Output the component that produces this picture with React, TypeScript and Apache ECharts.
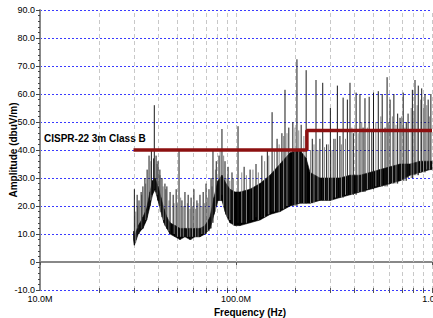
import React, { useEffect, useRef } from "react";
import * as echarts from "echarts";

// ---- axes ----
const yMin = -10;
const yMax = 90;
const yStep = 10;
const xMin = 10; // MHz
const xMax = 1000; // MHz
const xGridLines = [20, 30, 40, 50, 60, 70, 80, 90, 100, 200, 300, 400, 500, 600, 700, 800, 900, 1000];

// ---- measured noise floor band (MHz, dBuV/m) ----
const bandFreq = [
  30.0, 30.3, 31.0, 31.7, 32.4, 33.5, 35.0, 36.4, 37.5, 38.6, 40.0, 41.4, 42.9, 44.4, 46.1, 48.9,
  51.8, 54.9, 58.3, 61.8, 65.5, 69.5, 73.7, 77.2, 80.9, 84.8, 88.9, 93.2, 98.8, 104.8, 117.9,
  132.6, 149.1, 167.7, 188.6, 212, 228, 238.6, 268, 301.8, 339, 381.6, 429, 483, 543, 611, 687,
  772, 869, 977, 1000,
];
const bandLow = [
  8, 6, 8, 10, 11, 12, 15, 20, 24, 26, 22, 18, 14, 12, 10, 9,
  8, 9, 8, 9, 9, 10, 12, 17, 22, 22, 17, 14, 13, 13, 14,
  15, 17, 18, 20, 21, 21, 21, 22, 22, 23, 24, 25, 26, 27, 28, 29,
  31, 32, 33, 33,
];
const bandHigh = [
  11, 9, 11, 13, 14, 16, 19, 25, 29, 30, 27, 23, 19, 16, 14, 13,
  12, 12, 12, 12, 12, 13, 16, 23, 29, 31, 28, 26, 25, 25, 26,
  28, 31, 35, 39, 40, 37, 32, 30, 30, 30, 31, 31, 32, 33, 34, 35,
  35, 36, 36, 36,
];

// ---- spikes: [MHz, base dB, peak dB] ----
const darkSpikes: [number, number, number][] = [
  [30.3, 8, 26], [31.3, 10, 24], [32.0, 10, 22], [32.8, 12, 25], [33.5, 12, 27], [34.3, 14, 30],
  [35.2, 16, 33], [36.0, 20, 38], [37.0, 24, 40], [38.0, 25, 37], [38.3, 26, 56], [39.1, 25, 38],
  [40.0, 22, 36], [40.9, 20, 33], [41.9, 16, 30], [43.4, 13, 28], [44.4, 12, 27], [46.1, 10, 25],
  [47.8, 10, 24], [49.5, 9, 26], [51.2, 9, 40], [53.0, 9, 22], [54.9, 9, 25], [57.0, 9, 24],
  [59.0, 8, 23], [61.0, 9, 26], [63.2, 9, 22], [65.5, 9, 24], [68.0, 10, 25], [70.3, 10, 28],
  [72.8, 11, 26], [74.6, 12, 30], [76.3, 14, 40], [79.3, 20, 36], [81.9, 22, 38], [84.8, 24, 47.5],
  [87.9, 18, 36], [91.1, 16, 34], [95.4, 14, 32], [102.4, 14, 48.5], [110, 14, 34], [118, 15, 33],
  [126.5, 16, 35], [135.5, 16, 38], [144.5, 17, 40], [152.8, 18, 53.5], [162, 18, 44], [171.5, 19, 46],
  [177.8, 19, 61.5], [186, 20, 48], [195, 20, 50], [204.6, 20, 72.4], [215, 21, 49], [228, 21, 68.5],
  [245, 21, 44], [256, 22, 65], [268, 22, 44], [277, 22, 64], [290, 22, 42], [303, 22, 55],
  [316, 23, 44], [329, 23, 63], [339, 23, 45], [352, 23, 58.7], [370, 24, 58], [381.6, 24, 64],
  [397, 24, 46], [410, 24, 60.5], [429, 25, 60], [445, 25, 48], [455, 25, 58.5], [478, 26, 59],
  [493, 26, 47], [503, 26, 60.5], [532, 27, 61], [557, 27, 60], [576, 27, 48], [590, 27, 66],
  [611, 28, 58], [639, 28, 60], [668, 28, 53], [687, 29, 51.5], [713, 29, 60.5], [739, 29, 50],
  [755, 30, 53], [794, 30, 61.5], [819, 31, 65], [851, 31, 63], [886, 32, 62], [921, 32, 60],
  [956, 33, 58], [987, 33, 60],
];
const greySpikes: [number, number, number][] = [
  [30.8, 7, 18], [31.5, 12, 20], [33, 12, 24], [34.6, 15, 28], [36.8, 22, 36], [39.6, 24, 35],
  [41, 18, 31], [42.5, 15, 27], [43.8, 13, 26], [45.5, 11, 22], [48.3, 10, 21], [50.3, 9, 21],
  [52.2, 9, 23], [53.8, 9, 20], [56.5, 9, 21], [58.2, 9, 19], [60, 9, 20], [62.2, 9, 19],
  [64, 9, 21], [67, 10, 20], [69.2, 10, 21], [71.5, 11, 23], [75.5, 14, 27], [78.5, 18, 33],
  [83, 22, 40], [86.5, 20, 38], [90, 16, 30], [93, 15, 29], [97, 13, 30], [107, 14, 32],
  [113, 14, 31], [122, 15, 33], [130, 15, 32], [140, 16, 36], [147, 17, 38], [157, 18, 40],
  [166, 18, 42], [175, 19, 45], [182, 20, 46], [200, 20, 48], [209, 21, 47], [222, 21, 45],
  [240, 21, 40], [250, 21, 42], [262, 22, 40], [283, 22, 41], [296, 22, 42], [309, 22, 40],
  [322, 23, 44], [345, 23, 42], [362, 24, 44], [390, 24, 48], [420, 25, 46], [438, 25, 50],
  [468, 26, 48], [517, 27, 50], [548, 27, 52], [600, 28, 50], [628, 28, 52], [655, 28, 49],
  [700, 29, 52], [727, 29, 48], [783, 30, 55], [808, 31, 54], [840, 31, 56], [875, 32, 58],
  [905, 32, 55], [940, 33, 56], [970, 33, 52],
];

// ---- limit line ----
const limitFreq = [30, 230, 230, 1000];
const limitLevel = [40, 40, 47, 47];
const limitName = "CISPR-22 3m Class B";

const xTitle = "Frequency (Hz)";
const yTitle = "Amplitude (dbuV/m)";

const FONT = 'Arial, "Liberation Sans", sans-serif';

function fmtFreq(v: number): string {
  const r = Math.round(v);
  if (r >= 1000) return (r / 1000).toFixed(1) + "G";
  return r.toFixed(1) + "M";
}

export default function App() {
  const ref = useRef<HTMLDivElement>(null);

  useEffect(() => {
    document.body.style.margin = "0";
    if (!ref.current) return;
    const chart = echarts.init(ref.current, undefined, { renderer: "svg" });

    const spikeSeries = (data: [number, number, number][], color: string, name: string) => ({
      type: "custom",
      name,
      coordinateSystem: "cartesian2d",
      silent: true,
      encode: { x: 0, y: [1, 2] },
      data,
      z: 3,
      renderItem: (_p: any, api: any) => {
        const a = api.coord([api.value(0), api.value(1)]);
        const b = api.coord([api.value(0), api.value(2)]);
        return {
          type: "line",
          shape: { x1: a[0], y1: a[1], x2: b[0], y2: b[1] },
          style: { stroke: color, lineWidth: 1 },
        };
      },
    });

    chart.setOption({
      animation: false,
      grid: { left: 40, right: 1, top: 10, bottom: 28, containLabel: false, outerBoundsMode: "none" },
      xAxis: {
        type: "log",
        logBase: 10,
        min: xMin,
        max: xMax,
        name: xTitle,
        nameLocation: "middle",
        nameGap: 17,
        nameMoveOverlap: false,
        nameTextStyle: {
          fontFamily: FONT,
          fontWeight: "bold",
          fontSize: 10,
          color: "#000",
          padding: [0, 0, 0, 28],
        },
        axisLine: { show: true, lineStyle: { color: "#888", width: 2 } },
        axisTick: { show: true, length: 3, lineStyle: { color: "#555" } },
        axisLabel: {
          fontFamily: FONT,
          fontSize: 9,
          color: "#000",
          margin: 4,
          showMaxLabel: true,
          showMinLabel: true,
          hideOverlap: false,
          formatter: (v: number) => fmtFreq(v),
        },
        splitLine: { show: false },
      },
      yAxis: {
        type: "value",
        min: yMin,
        max: yMax,
        interval: yStep,
        name: yTitle,
        nameLocation: "middle",
        nameGap: 22,
        nameMoveOverlap: false,
        nameTextStyle: { fontFamily: FONT, fontWeight: "bold", fontSize: 10, color: "#000" },
        axisLine: { show: true, lineStyle: { color: "#888", width: 2 } },
        axisTick: { show: true, length: 4, lineStyle: { color: "#444" } },
        minorTick: { show: true, splitNumber: 5, length: 2, lineStyle: { color: "#444" } },
        axisLabel: {
          fontFamily: FONT,
          fontSize: 9,
          color: "#000",
          margin: 5,
          showMinLabel: true,
          showMaxLabel: true,
          hideOverlap: false,
          formatter: (v: number) => (v === 0 ? "0" : v.toFixed(1)),
        },
        splitLine: { show: true, lineStyle: { color: "#3a3aff", type: [2, 2], width: 1 } },
      },
      graphic: [
        {
          type: "text",
          left: 44,
          top: 133,
          z: 10,
          style: { text: limitName, font: `bold 10px ${FONT}`, fill: "#000" },
        },
      ],
      series: [
        {
          type: "custom",
          name: "vgrid",
          coordinateSystem: "cartesian2d",
          silent: true,
          encode: { x: 0, y: [1, 2] },
          data: xGridLines.map((f) => [f, yMin, yMax]),
          z: 1,
          renderItem: (_p: any, api: any) => {
            const a = api.coord([api.value(0), api.value(1)]);
            const b = api.coord([api.value(0), api.value(2)]);
            const x = Math.round(a[0]) + 0.5;
            return {
              type: "group",
              children: [
                {
                  type: "line",
                  shape: { x1: x, y1: a[1], x2: x, y2: b[1] },
                  style: { stroke: "#c8c8c8", lineWidth: 1, lineDash: [4, 3] },
                },
                {
                  type: "line",
                  shape: { x1: x, y1: a[1] - 2, x2: x, y2: a[1] + 3 },
                  style: { stroke: "#555", lineWidth: 1 },
                },
              ],
            };
          },
        },
        {
          type: "custom",
          name: "noise floor",
          coordinateSystem: "cartesian2d",
          silent: true,
          encode: { x: 0, y: [1, 2] },
          data: bandFreq.map((f, i) => [f, bandLow[i], bandHigh[i]]),
          z: 2,
          renderItem: (p: any, api: any) => {
            const i = p.dataIndex;
            if (i >= bandFreq.length - 1) return null;
            const a = api.coord([bandFreq[i], bandLow[i]]);
            const b = api.coord([bandFreq[i + 1], bandLow[i + 1]]);
            const c = api.coord([bandFreq[i + 1], bandHigh[i + 1]]);
            const d = api.coord([bandFreq[i], bandHigh[i]]);
            return {
              type: "polygon",
              shape: { points: [a, b, c, d] },
              style: { fill: "#000", stroke: "#000", lineWidth: 0.6 },
            };
          },
        },
        spikeSeries(greySpikes, "#8a8a8a", "grey spikes"),
        spikeSeries(darkSpikes, "#1a1a1a", "dark spikes"),
        {
          type: "line",
          name: limitName,
          data: limitFreq.map((f, i) => [f, limitLevel[i]]),
          symbol: "none",
          silent: true,
          z: 5,
          lineStyle: { color: "#8c1010", width: 3.5 },
        },
      ],
    });

    return () => chart.dispose();
  }, []);

  return <div ref={ref} style={{ width: 433, height: 318 }} />;
}
